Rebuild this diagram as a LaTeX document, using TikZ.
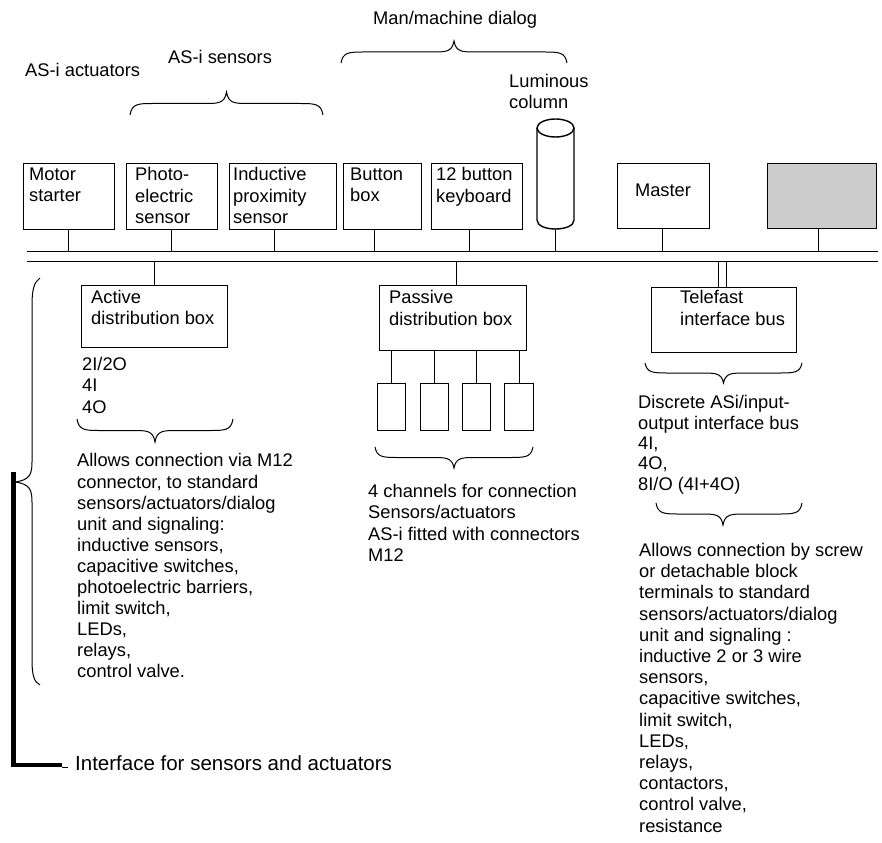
\documentclass[tikz,border=0pt]{standalone}
\usepackage{fontspec}
\setmainfont{Liberation Sans}
\definecolor{boxgray}{HTML}{CCCCCC}
\newcommand{\hbrc}[5]{%
 \pgfmathsetmacro\bym{(#4+#5)/2}%
 \draw[brc] (#1,#4) .. controls (#1+2,\bym) and (#1+8,\bym) .. (#1+24,\bym)
   -- (#3-22,\bym) .. controls (#3-8,\bym) and (#3-2,\bym) .. (#3,#5)
   .. controls (#3+2,\bym) and (#3+8,\bym) .. (#3+22,\bym)
   -- (#2-24,\bym) .. controls (#2-8,\bym) and (#2-2,\bym) .. (#2,#4);}
\tikzset{
 ln/.style={line width=1.4pt},
 box/.style={draw, line width=1.4pt, inner sep=0pt, anchor=north west},
 txt/.style={inner sep=0pt, anchor=north west, align=left, font=\fontsize{18.3}{21.3}\selectfont},
 lbl/.style={inner sep=0pt, anchor=base west, font=\fontsize{18.3}{21.3}\selectfont},
 brc/.style={line width=1pt},
}
\begin{document}
\begin{tikzpicture}[x=1pt,y=-1pt]
\useasboundingbox (0,0) rectangle (882,842);
% top labels
\node[lbl] (actlbl) at (25,76.5) {AS-i actuators};
\node[lbl] (senlbl) at (168,64) {AS-i sensors};
\node[lbl] (mmlbl) at (373,25) {Man/machine dialog};
\node[txt] (lumlbl) at (509,74.2) {Luminous\\column};
\hbrc{130}{323}{226.5}{115}{92}
\hbrc{341}{567}{454}{63}{41}
% top boxes
\node[box, minimum width=91pt, minimum height=66pt] (motor) at (23,163) {};
\node[box, minimum width=91pt, minimum height=66pt] (photo) at (126,163) {};
\node[box, minimum width=107pt, minimum height=66pt] (induct) at (229,163) {};
\node[box, minimum width=78pt, minimum height=66pt] (button) at (343,163) {};
\node[box, minimum width=91pt, minimum height=66pt] (kbd) at (431,163) {};
\node[box, minimum width=92pt, minimum height=65pt] (master) at (617,163) {};
\node[box, fill=boxgray, minimum width=109pt, minimum height=65pt] (gray) at (767,163) {};
\node[txt] (motorT) at (29,167.4) {Motor\\starter};
\node[txt] (photoT) at (135,167.4) {Photo-\\electric\\sensor};
\node[txt] (inductT) at (233,167.4) {Inductive\\proximity\\sensor};
\node[txt] (buttonT) at (350,167.4) {Button\\box};
\node[txt] (kbdT) at (436,167.4) {12 button\\keyboard};
\node[lbl, anchor=base] (masterT) at (663,196.7) {Master};
% luminous column
\draw[ln] (555.5,128) ellipse [x radius=18.5, y radius=9];
\draw[ln] (537,128) -- (537,220) .. controls (537,232) and (574,232) .. (574,220) -- (574,128);
\coordinate (colbot) at (555.5,229);
% bus
\coordinate (busTL) at (26.7,251.7);
\coordinate (busTR) at (878,251.7);
\coordinate (busBL) at (26.7,261.7);
\coordinate (busBR) at (878,261.7);
\draw[ln] (busTL) -- (busTR);
\draw[ln] (busBL) -- (busBR);
% top stubs
\draw[ln] ([xshift=-0.5pt]motor.south) -- ([xshift=-0.5pt]motor.south |- busTL);
\draw[ln] ([xshift=-0.5pt]photo.south) -- ([xshift=-0.5pt]photo.south |- busTL);
\draw[ln] ([xshift=-8.5pt]induct.south) -- ([xshift=-8.5pt]induct.south |- busTL);
\draw[ln] ([xshift=-8pt]button.south) -- ([xshift=-8pt]button.south |- busTL);
\draw[ln] ([xshift=-7.5pt]kbd.south) -- ([xshift=-7.5pt]kbd.south |- busTL);
\draw[ln] (colbot) -- (colbot |- busTL);
\draw[ln] ([xshift=-1pt]master.south) -- ([xshift=-1pt]master.south |- busTL);
\draw[ln] ([xshift=-3.5pt]gray.south) -- ([xshift=-3.5pt]gray.south |- busTL);
% lower boxes
\node[box, minimum width=146pt, minimum height=62pt] (active) at (81,285) {};
\node[box, minimum width=147pt, minimum height=65pt] (passive) at (379,285) {};
\node[box, minimum width=145pt, minimum height=65pt] (telefast) at (651,287) {};
\node[txt] (activeT) at (91,290.2) {Active\\distribution box};
\node[txt] (passiveT) at (389,290.3) {Passive\\distribution box};
\node[txt] (telefastT) at (680,290.5) {Telefast\\interface bus};
\draw[ln] ([xshift=0pt]active.north) -- (active.north |- busBL);
\draw[ln] ([xshift=3.5pt]passive.north) -- ([xshift=3.5pt]passive.north |- busBL);
\draw[ln] ([xshift=-5.5pt]telefast.north) -- ([xshift=-5.5pt]telefast.north |- busBL);
\draw[ln] ([xshift=2.5pt]telefast.north) -- ([xshift=2.5pt]telefast.north |- busBL);
% passive small boxes
\node[box, minimum width=28pt, minimum height=47pt] (ch1) at (377,383) {};
\node[box, minimum width=28pt, minimum height=47pt] (ch2) at (420,383) {};
\node[box, minimum width=28pt, minimum height=47pt] (ch3) at (462,383) {};
\node[box, minimum width=29pt, minimum height=47pt] (ch4) at (504,383) {};
\draw[ln] (ch1.north) -- (ch1.north |- passive.south);
\draw[ln] (ch2.north) -- (ch2.north |- passive.south);
\draw[ln] (ch3.north) -- (ch3.north |- passive.south);
\draw[ln] (ch4.north) -- (ch4.north |- passive.south);
% lower texts
\node[txt] (ioT) at (82,357) {2I/2O\\4I\\4O};
\hbrc{77}{233}{155}{419}{442}
\node[txt, font=\fontsize{18.3}{21.1}\selectfont] (leftT) at (77,453.5) {Allows connection via M12\\connector, to standard\\sensors/actuators/dialog\\unit and signaling:\\inductive sensors,\\capacitive switches,\\photoelectric barriers,\\limit switch,\\LEDs,\\relays,\\control valve.};
\hbrc{375}{533}{454}{447}{468}
\node[txt] (chT) at (368,484) {4 channels for connection\\Sensors/actuators\\AS-i fitted with connectors\\M12};
\hbrc{645}{802}{723.5}{363}{383}
\node[txt, font=\fontsize{18.3}{20.3}\selectfont] (discT) at (638,395.5) {Discrete ASi/input-\\output interface bus\\4I,\\4O,\\8I/O (4I+4O)};
\hbrc{656}{802}{723}{503}{525}
\node[txt, font=\fontsize{18.3}{21.2}\selectfont] (rightT) at (639,543) {Allows connection by screw\\or detachable block\\terminals to standard\\sensors/actuators/dialog\\unit and signaling :\\inductive 2 or 3 wire\\sensors,\\capacitive switches,\\limit switch,\\LEDs,\\relays,\\contactors,\\control valve,\\resistance};
% big left brace
\draw[brc] (40,278) .. controls (34,282) and (32,290) .. (32,305) -- (32,462)
  .. controls (32,474) and (30,480) .. (15,482)
  .. controls (30,484) and (32,490) .. (32,502) -- (32,660)
  .. controls (32,675) and (34,682) .. (40,685);
% interface marker
\draw[line width=4.5pt] (13.5,472) -- (13.5,765) -- (62,765);
\draw[line width=1pt] (62,767) -- (68,767);
\node[lbl, font=\fontsize{20.5}{24}\selectfont] (ifT) at (75,770) {Interface for sensors and actuators};
\end{tikzpicture}
\end{document}
